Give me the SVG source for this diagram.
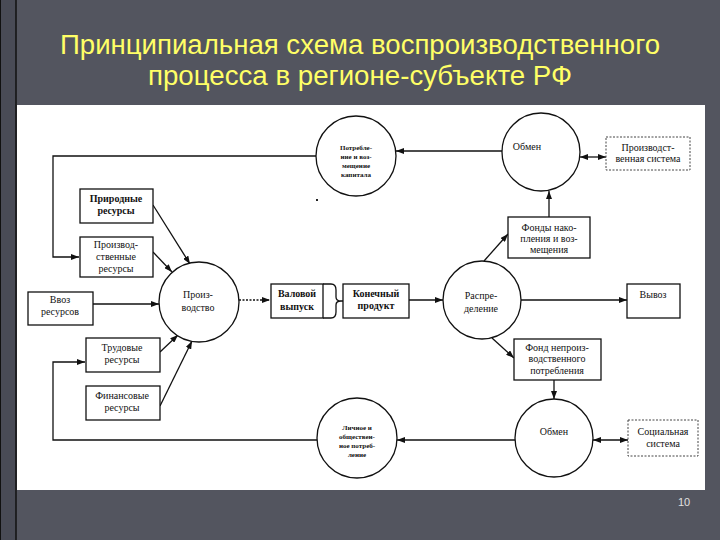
<svg xmlns="http://www.w3.org/2000/svg" width="720" height="540" viewBox="0 0 720 540">
<style>
.t{font-family:"Liberation Serif","DejaVu Serif",serif;font-size:10px;fill:#111;text-anchor:middle}
.b{font-weight:bold}
.s{font-family:"Liberation Serif","DejaVu Serif",serif;font-size:7px;font-weight:bold;fill:#111;text-anchor:middle}
.box{fill:#fff;stroke:#111;stroke-width:1.3}
.dbox{fill:#fff;stroke:#444;stroke-width:1;stroke-dasharray:2 1.5}
.cir{fill:#fff;stroke:#111;stroke-width:1.3}
.ln{fill:none;stroke:#111;stroke-width:1.3}
.title{font-family:"Liberation Sans","DejaVu Sans",sans-serif;font-size:27px;fill:#ffff66;text-anchor:middle}
</style>
<defs>
<marker id="ah" markerWidth="8" markerHeight="6" refX="8" refY="3" orient="auto-start-reverse" markerUnits="userSpaceOnUse">
<path d="M0,0 L8,3 L0,6 z" fill="#111"/>
</marker>
</defs>
<rect x="0" y="0" width="720" height="540" fill="#53555f"/>
<rect x="0" y="0" width="16" height="540" fill="#494b56"/>
<line x1="0.5" y1="0" x2="0.5" y2="540" stroke="#111" stroke-width="1"/>
<line x1="16" y1="0" x2="16" y2="540" stroke="#111" stroke-width="1.5"/>
<text class="title" x="360" y="54" textLength="600" lengthAdjust="spacingAndGlyphs">Принципиальная схема воспроизводственного</text>
<text class="title" x="360" y="85" textLength="424" lengthAdjust="spacingAndGlyphs">процесса в регионе-субъекте РФ</text>
<rect x="17" y="105" width="688" height="385" fill="#fff"/>
<text x="684" y="506" font-family="Liberation Sans, DejaVu Sans, sans-serif" font-size="11" fill="#e0e0e0" text-anchor="middle">10</text>

<g id="connectors">
<polyline class="ln" points="316,156 53,156 53,257 79,257" marker-end="url(#ah)"/>
<line class="ln" x1="153" y1="205" x2="190" y2="264" marker-end="url(#ah)"/>
<line class="ln" x1="153" y1="252" x2="172" y2="272" marker-end="url(#ah)"/>
<line class="ln" x1="93" y1="304" x2="159" y2="304" marker-end="url(#ah)"/>
<line class="ln" x1="160" y1="352" x2="178" y2="335" marker-end="url(#ah)"/>
<line class="ln" x1="160" y1="406" x2="192" y2="341" marker-end="url(#ah)"/>
<polyline class="ln" points="317,440 53,440 53,362 85,362" marker-end="url(#ah)"/>
<line class="ln" x1="239" y1="300" x2="270" y2="300" stroke-dasharray="2 1.5" marker-end="url(#ah)"/>
<path class="ln" d="M323,284 H331 Q336,284 336,290 V297 Q336,301 341,301 H343 M341,301 Q336,301 336,305 V312 Q336,318 331,318 H323"/>
<line class="ln" x1="409" y1="300" x2="443" y2="300" marker-end="url(#ah)"/>
<line class="ln" x1="521" y1="300" x2="627" y2="300" marker-end="url(#ah)"/>
<line class="ln" x1="484" y1="261" x2="508" y2="234" marker-end="url(#ah)"/>
<line class="ln" x1="549" y1="217" x2="549" y2="191" marker-end="url(#ah)"/>
<line class="ln" x1="502" y1="151" x2="396" y2="151" marker-end="url(#ah)"/>
<line class="ln" x1="580" y1="157" x2="606" y2="157" marker-start="url(#ah)" marker-end="url(#ah)"/>
<line class="ln" x1="492" y1="338" x2="514" y2="358" marker-end="url(#ah)"/>
<line class="ln" x1="554" y1="380" x2="554" y2="399" marker-end="url(#ah)"/>
<line class="ln" x1="515" y1="440" x2="397" y2="440" marker-end="url(#ah)"/>
<line class="ln" x1="593" y1="440" x2="628" y2="440" marker-start="url(#ah)" marker-end="url(#ah)"/>
<rect x="316" y="199" width="2" height="2" fill="#222"/>
</g>

<g id="potreblenie">
<circle class="cir" cx="356" cy="156" r="40"/>
<text class="s" x="356" y="150">Потребле-</text>
<text class="s" x="356" y="159">ние и воз-</text>
<text class="s" x="356" y="168">мещение</text>
<text class="s" x="356" y="177">капитала</text>
</g>
<g id="obmen1">
<circle class="cir" cx="541" cy="152" r="39"/>
<text class="t" x="527" y="150">Обмен</text>
</g>
<g id="proizv-sistema">
<rect class="dbox" x="606" y="137" width="84" height="33"/>
<text class="t" x="648" y="151">Производст-</text>
<text class="t" x="648" y="162">венная система</text>
</g>
<g id="fondy-nakopleniya">
<rect class="box" x="508" y="217" width="82" height="41"/>
<text class="t" x="549" y="231">Фонды нако-</text>
<text class="t" x="549" y="242">пления и воз-</text>
<text class="t" x="549" y="253">мещения</text>
</g>
<g id="prirodnye">
<rect class="box" x="80" y="189" width="73" height="34"/>
<text class="t b" x="116" y="202">Природные</text>
<text class="t b" x="116" y="214">ресурсы</text>
</g>
<g id="proizvodstvennye">
<rect class="box" x="80" y="237" width="73" height="40"/>
<text class="t" x="116" y="248">Производ-</text>
<text class="t" x="116" y="260">ственные</text>
<text class="t" x="116" y="272">ресурсы</text>
</g>
<g id="vvoz">
<rect class="box" x="28" y="292" width="65" height="33"/>
<text class="t" x="60" y="303">Ввоз</text>
<text class="t" x="60" y="315">ресурсов</text>
</g>
<g id="proizvodstvo">
<circle class="cir" cx="199" cy="302" r="40"/>
<text class="t" x="198" y="298">Произ-</text>
<text class="t" x="198" y="311">водство</text>
</g>
<g id="valovoy">
<rect class="box" x="271" y="284" width="52" height="34"/>
<text class="t b" x="297" y="297">Валовой</text>
<text class="t b" x="297" y="310">выпуск</text>
</g>
<g id="konechny">
<rect class="box" x="343" y="284" width="66" height="34"/>
<text class="t b" x="376" y="297">Конечный</text>
<text class="t b" x="376" y="309">продукт</text>
</g>
<g id="raspredelenie">
<circle class="cir" cx="482" cy="300" r="39"/>
<text class="t" x="481" y="299">Распре-</text>
<text class="t" x="481" y="312">деление</text>
</g>
<g id="vyvoz">
<rect class="box" x="627" y="284" width="53" height="34"/>
<text class="t" x="653" y="298">Вывоз</text>
</g>
<g id="trudovye">
<rect class="box" x="86" y="338" width="74" height="34"/>
<text class="t" x="122" y="351">Трудовые</text>
<text class="t" x="122" y="363">ресурсы</text>
</g>
<g id="finansovye">
<rect class="box" x="86" y="386" width="74" height="34"/>
<text class="t" x="122" y="399">Финансовые</text>
<text class="t" x="122" y="411">ресурсы</text>
</g>
<g id="fond-neproizv">
<rect class="box" x="514" y="339" width="87" height="41"/>
<text class="t" x="557" y="351">Фонд непроиз-</text>
<text class="t" x="557" y="362">водственного</text>
<text class="t" x="557" y="374">потребления</text>
</g>
<g id="lichnoe">
<circle class="cir" cx="357" cy="438" r="40"/>
<text class="s" x="357" y="430">Личное и</text>
<text class="s" x="357" y="439">обществен-</text>
<text class="s" x="357" y="448">ное потреб-</text>
<text class="s" x="357" y="457">ление</text>
</g>
<g id="obmen2">
<circle class="cir" cx="554" cy="438" r="39"/>
<text class="t" x="554" y="435">Обмен</text>
</g>
<g id="socialnaya">
<rect class="dbox" x="628" y="420" width="70" height="36"/>
<text class="t" x="663" y="435">Социальная</text>
<text class="t" x="663" y="447">система</text>
</g>
</svg>
